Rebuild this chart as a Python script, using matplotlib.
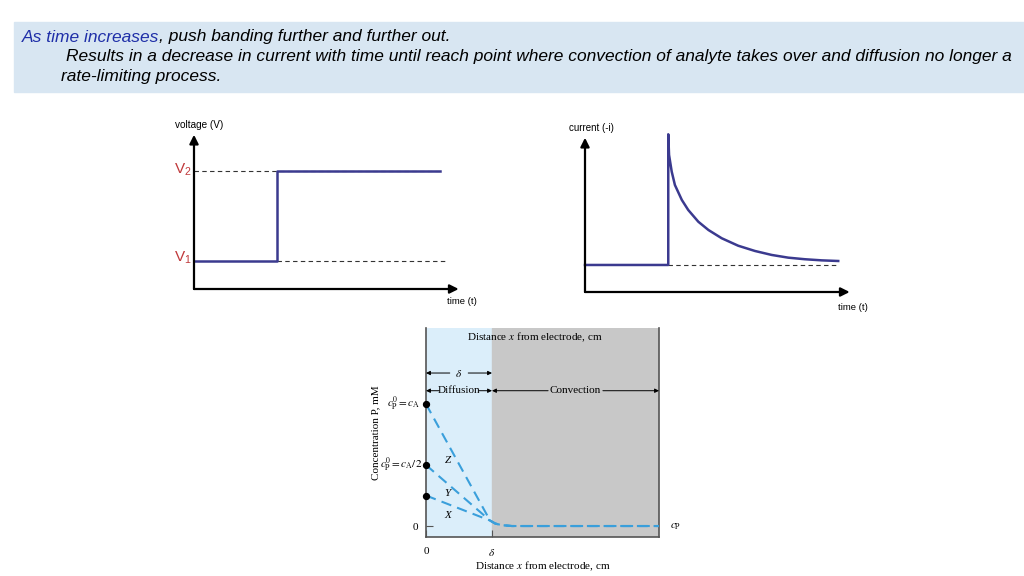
import numpy as np
import matplotlib
matplotlib.use("Agg")
import matplotlib.pyplot as plt
from matplotlib.patches import Rectangle

plt.rcParams['font.family'] = ['Liberation Sans', 'DejaVu Sans']
plt.rcParams['mathtext.fontset'] = 'stix'

# --- data -------------------------------------------------------------
# voltage step (arbitrary units, time 0..10, level 0..1)
t_volt = [0, 3.12, 3.12, 9.25]
v1 = 0.176
v2 = 0.742
v_volt = [v1, v1, v2, v2]

# current response
t_step = 3.13
i_base = 0.17
t_cur = [0, 3.13, 3.13, 3.16, 3.26, 3.38, 3.64, 3.88, 4.26, 4.64, 5.14,
         5.76, 6.39, 7.02, 7.64, 8.27, 8.90, 9.52]
i_cur = [0.17, 0.17, 0.992, 0.862, 0.757, 0.673, 0.579, 0.516, 0.442, 0.390,
         0.338, 0.291, 0.258, 0.233, 0.216, 0.206, 0.199, 0.195]

# concentration profiles (x in units of delta, c in units of c_A)
x_prof = [0, 0.97, 1.05, 1.15, 1.3, 3.53]
c_Z = [1.0, 0.045, 0.02, 0.007, 0.0, 0.0]
c_Y = [0.5, 0.045, 0.02, 0.007, 0.0, 0.0]
c_X = [0.25, 0.045, 0.02, 0.007, 0.0, 0.0]
c_dots = [1.0, 0.5, 0.25]

W, H = 1024, 576
fig = plt.figure(figsize=(W / 100, H / 100), dpi=100)


def rect(l, t, r, b):
    return [l / W, 1 - b / H, (r - l) / W, (b - t) / H]


# background / header
bg = fig.add_axes([0, 0, 1, 1])
bg.set_xlim(0, W)
bg.set_ylim(H, 0)
bg.axis('off')
bg.add_patch(Rectangle((14, 22), W - 14, 70, color='#d8e6f2', zorder=0))

hdr = dict(fontsize=12.55, style='italic', va='center')
t1 = bg.text(22, 37, "As time increases", color='#1f2fa8', **hdr)
bg.annotate(", push banding further and further out.", xy=(1, 0.5), xycoords=t1,
            ha='left', color='black', **hdr)
bg.text(66, 57, "Results in a decrease in current with time until reach point where "
        "convection of analyte takes over and diffusion no longer a", color='black', **hdr)
bg.text(61, 77, "rate-limiting process.", color='black', **hdr)

navy = '#3b3a8f'
arrow = dict(arrowstyle='-|>', color='black', lw=1.6, mutation_scale=13,
             shrinkA=0, shrinkB=0)

# --- voltage step ------------------------------------------------------
ax1 = fig.add_axes(rect(194, 130, 460, 289))
ax1.set_xlim(0, 10)
ax1.set_ylim(0, 1)
ax1.axis('off')
ax1.annotate('', xy=(0, 0.97), xytext=(0, 0), arrowprops=arrow, annotation_clip=False)
ax1.annotate('', xy=(9.95, 0), xytext=(0, 0), arrowprops=arrow, annotation_clip=False)
ax1.plot([0, 9.25], [v2, v2], color='#333333', lw=0.8, dashes=(4, 3))
ax1.plot([3.12, 9.44], [v1, v1], color='#333333', lw=0.8, dashes=(4, 3))
ax1.plot(t_volt, v_volt, color=navy, lw=1.8, clip_on=False)
ax1.text(-0.7, 1.03, "voltage (V)", fontsize=7.2, ha='left', va='center')
ax1.text(-0.08, v2 + 0.01, r"$\mathregular{V_2}$", fontsize=11, color='#c0393b',
         ha='right', va='center')
ax1.text(-0.08, v1 + 0.02, r"$\mathregular{V_1}$", fontsize=11, color='#c0393b',
         ha='right', va='center')
ax1.text(9.5, -0.08, "time (t)", fontsize=6.8, ha='left', va='center')

# --- current response --------------------------------------------------
ax2 = fig.add_axes(rect(585, 133, 851, 292))
ax2.set_xlim(0, 10)
ax2.set_ylim(0, 1)
ax2.axis('off')
ax2.annotate('', xy=(0, 0.97), xytext=(0, 0), arrowprops=arrow, annotation_clip=False)
ax2.annotate('', xy=(9.95, 0), xytext=(0, 0), arrowprops=arrow, annotation_clip=False)
ax2.plot([t_step, 9.5], [i_base, i_base], color='#333333', lw=0.8, dashes=(4, 3))
ax2.plot(t_cur, i_cur, color=navy, lw=1.8, clip_on=False)
ax2.text(-0.6, 1.03, "current (-i)", fontsize=7.0, ha='left', va='center')
ax2.text(9.5, -0.1, "time (t)", fontsize=6.8, ha='left', va='center')

# --- concentration profiles --------------------------------------------
ax3 = fig.add_axes(rect(426, 328, 659, 537))
ax3.set_xlim(0, 3.53)
ax3.set_ylim(-0.09, 1.623)
ax3.axvspan(0, 1, color='#dbeefa', zorder=0)
ax3.axvspan(1, 3.53, color='#c8c8c8', zorder=0)
for s in ['left', 'bottom', 'right']:
    ax3.spines[s].set_color('#555555')
    ax3.spines[s].set_linewidth(1.2)
ax3.spines['top'].set_visible(False)
ax3.set_yticks([0])
ax3.set_yticklabels(['0'], family='Liberation Serif', fontsize=8)
ax3.set_xticks([0, 1])
ax3.set_xticklabels(['0', r'$\delta$'], fontsize=8, family='Liberation Serif')
ax3.tick_params(direction='in', length=5, color='#555555', pad=7)
ax3.tick_params(axis='y', pad=6)

blue = '#3a9fdb'
for c in [c_Z, c_Y, c_X]:
    ax3.plot(x_prof, c, color=blue, lw=1.5, dashes=(5, 3), zorder=3)
ax3.scatter([0] * len(c_dots), c_dots, color='black', s=18, zorder=5, clip_on=False)

serif = dict(family='Liberation Serif', fontsize=8)
ax3.text(0.33, 0.54, "Z", style='italic', ha='center', va='center', **serif)
ax3.text(0.33, 0.27, "Y", style='italic', ha='center', va='center', **serif)
ax3.text(0.33, 0.09, "X", style='italic', ha='center', va='center', **serif)
ax3.text(-0.08, 1.0, r"$c_\mathrm{P}^0 = c_\mathrm{A}$", ha='right', va='center', **serif)
ax3.text(-0.05, 0.5, r"$c_\mathrm{P}^0 = c_\mathrm{A}/2$", ha='right', va='center', **serif)
ax3.text(3.7, -0.005, r"$c_\mathrm{P}$", ha='left', va='center', **serif)
ax3.text(1.65, 1.55, r"Distance $x$ from electrode, cm", ha='center', va='center', **serif)
ax3.set_xlabel(r"Distance $x$ from electrode, cm", labelpad=1, **serif)
ax3.set_ylabel("Concentration P, mM", labelpad=23, **serif)

small = dict(arrowstyle='-|>', color='black', lw=0.7, mutation_scale=6,
             shrinkA=0, shrinkB=0)
y_d, y_c = 1.254, 1.109
ax3.text(0.5, y_d, r"$\delta$", ha='center', va='center', **serif)
ax3.annotate('', xy=(0, y_d), xytext=(0.36, y_d), arrowprops=small)
ax3.annotate('', xy=(1, y_d), xytext=(0.64, y_d), arrowprops=small)
ax3.text(0.5, y_c, "Diffusion", ha='center', va='center', **serif)
ax3.annotate('', xy=(0, y_c), xytext=(0.2, y_c), arrowprops=small)
ax3.annotate('', xy=(1, y_c), xytext=(0.8, y_c), arrowprops=small)
ax3.text(2.26, y_c, "Convection", ha='center', va='center', **serif)
ax3.annotate('', xy=(1, y_c), xytext=(1.85, y_c), arrowprops=small)
ax3.annotate('', xy=(3.53, y_c), xytext=(2.68, y_c), arrowprops=small)

fig.savefig("out.png", dpi=100)
